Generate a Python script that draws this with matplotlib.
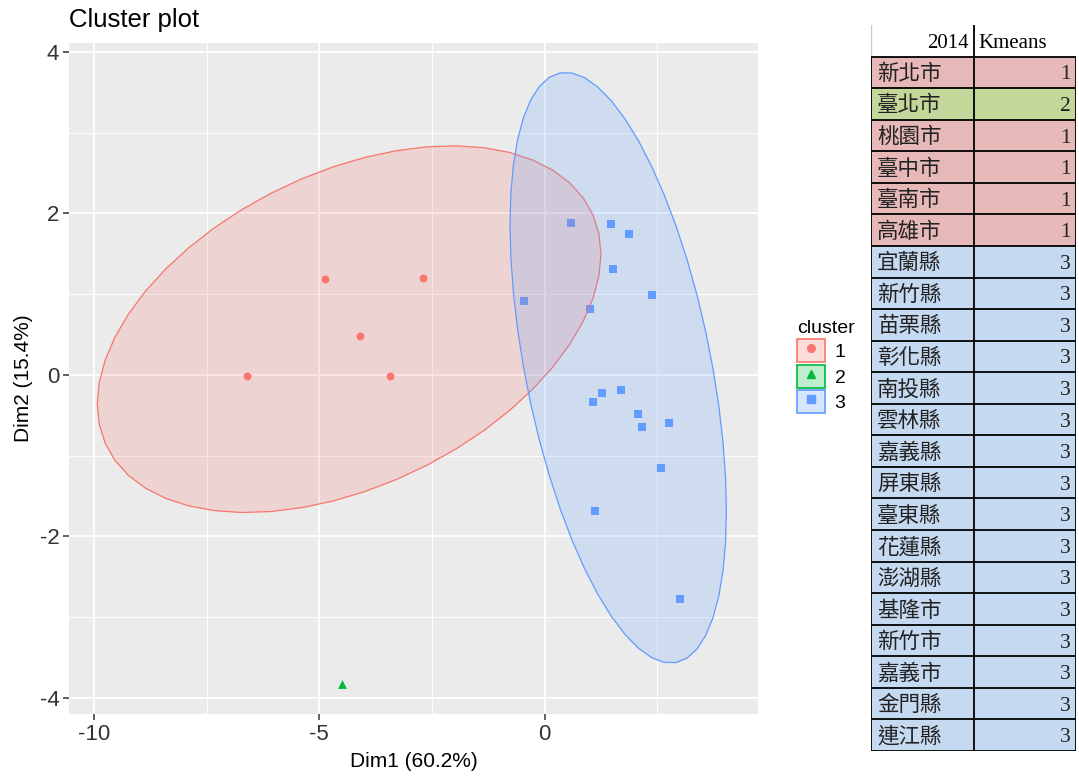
import matplotlib
matplotlib.use("Agg")
import matplotlib.pyplot as plt
import numpy as np
from matplotlib.patches import Polygon, Rectangle, Patch
from matplotlib.lines import Line2D
from matplotlib.legend_handler import HandlerTuple

# cluster 1 (red), 2 (green), 3 (blue) -- PCA coordinates
c1_x = [-6.60, -4.87, -4.09, -3.44, -2.69]
c1_y = [-0.02, 1.19, 0.48, -0.02, 1.20]
c2_x = [-4.49]
c2_y = [-3.83]
c3_x = [0.59, 1.46, 1.87, 1.52, 2.38, -0.46, 1.01, 1.27, 1.70, 1.07, 2.07, 2.16, 2.76, 2.57, 1.11, 3.00]
c3_y = [1.88, 1.87, 1.74, 1.31, 0.99, 0.92, 0.81, -0.22, -0.19, -0.34, -0.48, -0.65, -0.60, -1.15, -1.69, -2.78]

cluster_labels = ["1", "2", "3"]
cluster_colors = ["#F8766D", "#00BA38", "#619CFF"]

x_ticks = [-10, -5, 0]
y_ticks = [-4, -2, 0, 2, 4]

# table on the right
tab_header = ["2014", "Kmeans"]
regions = ["新北市", "臺北市", "桃園市", "臺中市", "臺南市", "高雄市",
           "宜蘭縣", "新竹縣", "苗栗縣", "彰化縣", "南投縣", "雲林縣",
           "嘉義縣", "屏東縣", "臺東縣", "花蓮縣", "澎湖縣", "基隆市",
           "新竹市", "嘉義市", "金門縣", "連江縣"]
kmeans = [1, 2, 1, 1, 1, 1, 3, 3, 3, 3, 3, 3, 3, 3, 3, 3, 3, 3, 3, 3, 3, 3]
cell_colors = {1: "#E6B8B7", 2: "#C4D79B", 3: "#C5D9F1"}


def norm_ellipse(x, y, level=0.95, segments=51):
    # same idea as ggplot2 stat_ellipse(type = "norm")
    pts = np.column_stack([x, y])
    n = len(pts)
    center = pts.mean(axis=0)
    cov = np.cov(pts, rowvar=False)
    d2 = n - 1
    qf = d2 / 2.0 * ((1 - level) ** (-2.0 / d2) - 1)   # F quantile for dfn = 2
    radius = np.sqrt(2 * qf)
    t = np.linspace(0, 2 * np.pi, segments)
    circle = np.column_stack([np.cos(t), np.sin(t)])
    L = np.linalg.cholesky(cov)
    return center + radius * circle @ L.T


plt.rcParams["font.family"] = ["Liberation Sans", "DejaVu Sans"]
plt.rcParams["axes.unicode_minus"] = False
fig = plt.figure(figsize=(10.79, 7.78), dpi=100)

ax = fig.add_axes([69 / 1079, 1 - 714 / 778, (758 - 69) / 1079, (714 - 43) / 778])
ax.set_facecolor("#EBEBEB")
ax.set_xlim(-10.55, 4.73)
ax.set_ylim(-4.2, 4.11)
for s in ax.spines.values():
    s.set_visible(False)

ax.set_xticks(x_ticks)
ax.set_yticks(y_ticks)
ax.set_xticks([-7.5, -2.5, 2.5], minor=True)
ax.set_yticks([-3, -1, 1, 3], minor=True)
ax.grid(which="major", color="white", lw=1.3)
ax.grid(which="minor", color="white", lw=0.65)
ax.set_axisbelow(True)
ax.tick_params(which="major", length=4, width=1.1, color="#333333",
               labelsize=16, labelcolor="#333333", pad=3)
ax.tick_params(which="minor", length=0)

ax.scatter(c1_x, c1_y, s=32, marker="o", color=cluster_colors[0], lw=0, zorder=2)
ax.scatter(c2_x, c2_y, s=40, marker="^", color=cluster_colors[1], lw=0, zorder=2)
ax.scatter(c3_x, c3_y, s=34, marker="s", color=cluster_colors[2], lw=0, zorder=2)

for i, (xs, ys) in enumerate([(c1_x, c1_y), (c3_x, c3_y)]):
    col = cluster_colors[0] if i == 0 else cluster_colors[2]
    poly = norm_ellipse(xs, ys)
    ax.add_patch(Polygon(poly, closed=True, facecolor=col, alpha=0.2, lw=0, zorder=3 + i))
    ax.add_patch(Polygon(poly, closed=True, fill=False, edgecolor=col, lw=0.9, zorder=3 + i))

ax.set_xlabel("Dim1 (60.2%)", fontsize=15, color="black", labelpad=5)
ax.set_ylabel("Dim2 (15.4%)", fontsize=15, color="black", labelpad=5)
fig.text(69 / 1079, 1 - 20 / 778, "Cluster plot", fontsize=18.5, va="center", ha="left")

# legend
markers = ["o", "^", "s"]
handles = []
for col, m in zip(cluster_colors, markers):
    box = Patch(facecolor=col, alpha=0.25, edgecolor="none")
    box_edge = Patch(facecolor="none", edgecolor=col, lw=1.2)
    pt = Line2D([], [], marker=m, color=col, ls="", markersize=5.5)
    handles.append((box, box_edge, pt))
leg = fig.legend(handles, cluster_labels, title="cluster", loc="upper left",
                 bbox_to_anchor=(789 / 1079, 1 - 312 / 778), frameon=False,
                 fontsize=14, title_fontsize=14, handlelength=1.45, handleheight=1.45,
                 labelspacing=0.12, handletextpad=0.5, borderaxespad=0,
                 handler_map={tuple: HandlerTuple(ndivide=1, pad=0)})
leg._legend_box.align = "left"

# table
tx = fig.add_axes([871 / 1079, 1 - 751 / 778, (1076 - 871) / 1079, (751 - 25) / 778])
n_rows = len(regions) + 1
tx.set_xlim(0, 2)
tx.set_ylim(n_rows, 0)
tx.axis("off")

tx.add_patch(Rectangle((0, 0), 2, 1, facecolor="white", edgecolor="none"))
tx.plot([0, 0], [0, 1], color="#C8C8C8", lw=1)
tx.plot([1, 1], [0, 1], color="black", lw=1.3)
tx.text(0.95, 0.58, tab_header[0], ha="right", va="center", fontsize=15,
        family=["Liberation Serif", "Noto Sans CJK TC"])
tx.text(1.05, 0.58, tab_header[1], ha="left", va="center", fontsize=15,
        family=["Liberation Serif", "Noto Sans CJK TC"])

for i, (name, k) in enumerate(zip(regions, kmeans)):
    r = i + 1
    tx.add_patch(Rectangle((0, r), 2, 1, facecolor=cell_colors[k], edgecolor="none"))
    tx.text(0.06, r + 0.55, name, ha="left", va="center", fontsize=15.5,
            family=["Noto Sans CJK TC", "DejaVu Sans"], color="#222222")
    tx.text(1.95, r + 0.58, str(k), ha="right", va="center", fontsize=15.5,
            family=["Liberation Serif", "DejaVu Serif"], color="#222222")

for r in range(1, n_rows + 1):
    tx.plot([0, 2], [r, r], color="black", lw=1.3)
for c in [0, 1, 2]:
    tx.plot([c, c], [1, n_rows], color="black", lw=1.3)

fig.savefig("out.png", dpi=100)
